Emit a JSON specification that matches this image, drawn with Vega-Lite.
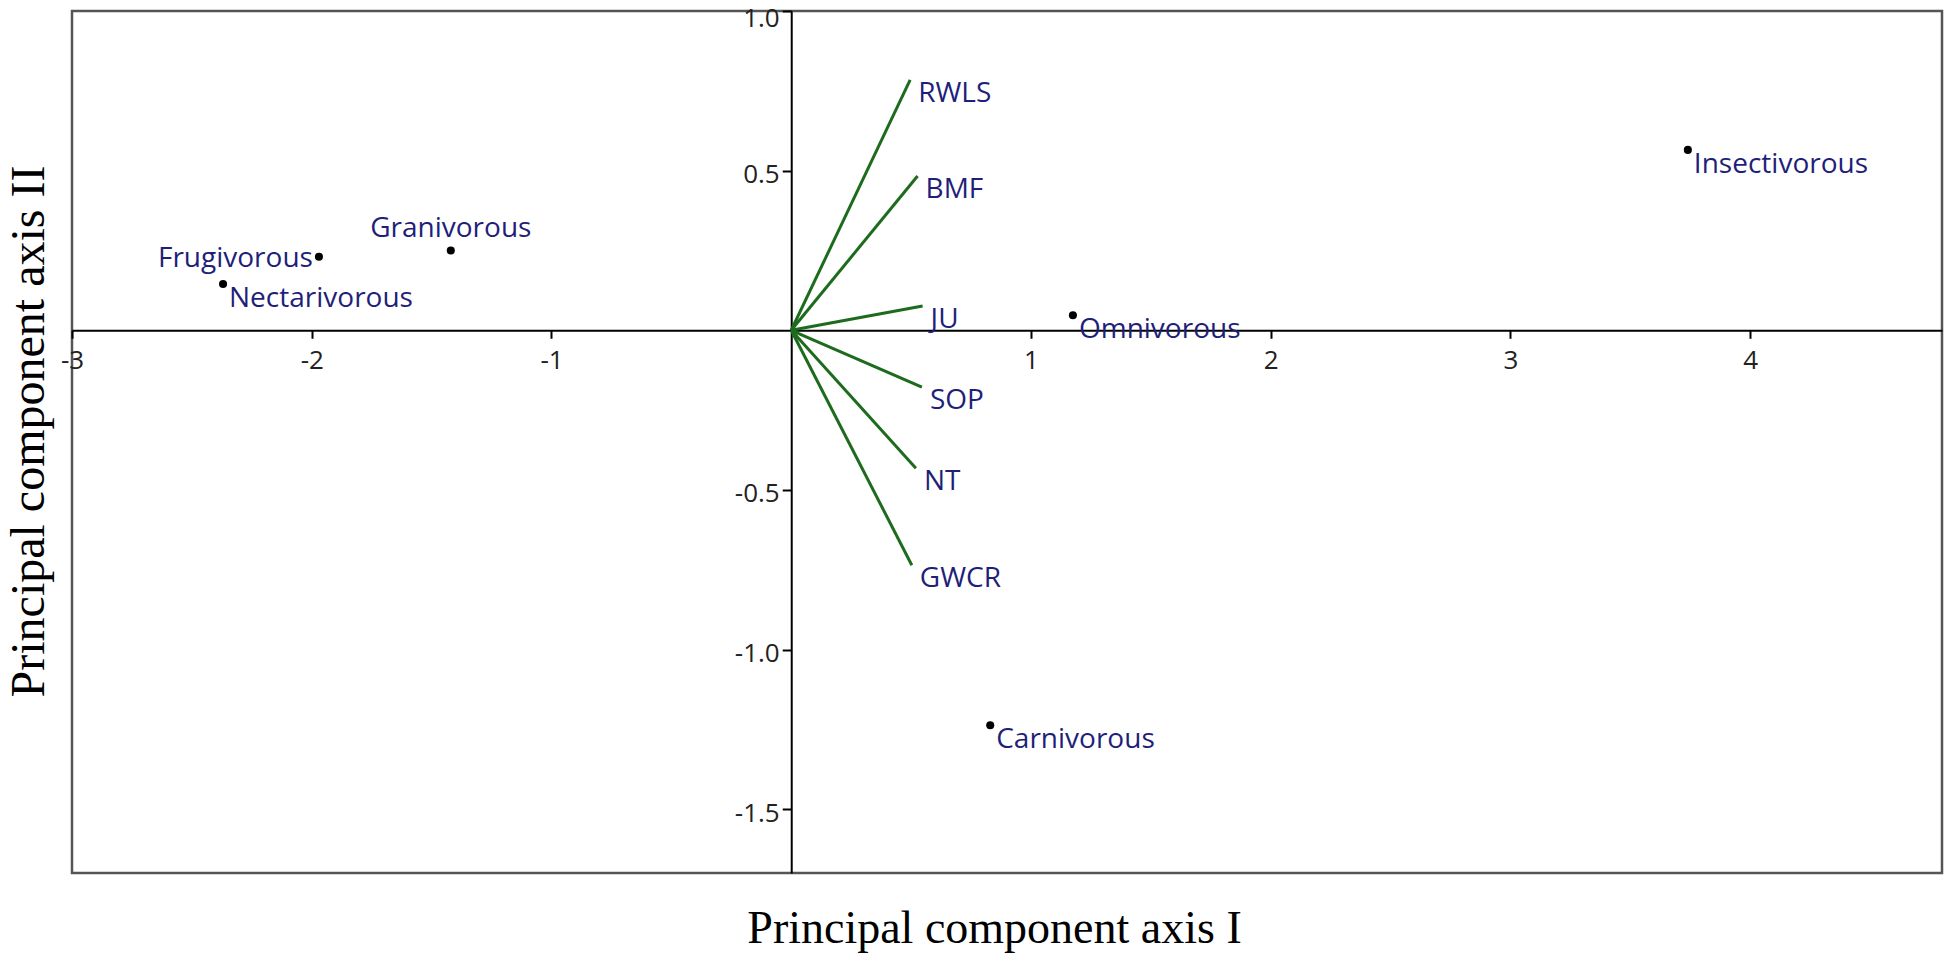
{
  "$schema": "https://vega.github.io/schema/vega-lite/v6.json",
  "width": 1870,
  "height": 862,
  "autosize": {"type": "none"},
  "padding": {"left": 72, "top": 11, "right": 4, "bottom": 83},
  "background": "white",
  "config": {
    "view": {"stroke": "#555555", "strokeWidth": 2.5},
    "axis": {"grid": false}
  },
  "datasets": {
    "points": [
      {"group": "Frugivorous", "x": -1.97, "y": 0.23},
      {"group": "Granivorous", "x": -1.42, "y": 0.25},
      {"group": "Nectarivorous", "x": -2.37, "y": 0.145},
      {"group": "Insectivorous", "x": 3.74, "y": 0.565},
      {"group": "Omnivorous", "x": 1.175, "y": 0.047},
      {"group": "Carnivorous", "x": 0.83, "y": -1.237}
    ],
    "vectors": [
      {"variable": "RWLS", "x0": 0, "y0": 0, "x": 0.496, "y": 0.784},
      {"variable": "BMF", "x0": 0, "y0": 0, "x": 0.527, "y": 0.483},
      {"variable": "JU", "x0": 0, "y0": 0, "x": 0.548, "y": 0.076},
      {"variable": "SOP", "x0": 0, "y0": 0, "x": 0.545, "y": -0.178},
      {"variable": "NT", "x0": 0, "y0": 0, "x": 0.52, "y": -0.432},
      {"variable": "GWCR", "x0": 0, "y0": 0, "x": 0.503, "y": -0.736}
    ]
  },
  "layer": [
    {
      "data": {"name": "points"},
      "mark": {"type": "point", "filled": true, "color": "black", "size": 65, "opacity": 1},
      "encoding": {
        "x": {
          "field": "x", "type": "quantitative",
          "scale": {"domain": [-3, 4.8], "nice": false, "zero": false},
          "axis": {
            "title": "Principal component axis I",
            "values": [-3, -2, -1, 1, 2, 3, 4],
            "labelExpr": "replace(format(datum.value, 'd'), '\u2212', '-')",
            "offset": -542.74,
            "domainColor": "black", "domainWidth": 2,
            "tickColor": "black", "tickWidth": 2, "tickSize": 8,
            "labelFont": "Open Sans", "labelFontSize": 26, "labelColor": "#222222",
            "labelPadding": 9, "labelFlush": false, "labelOverlap": false,
            "titleFont": "Liberation Serif", "titleFontSize": 46, "titleFontWeight": "normal",
            "titleColor": "black", "titleBaseline": "alphabetic",
            "titleX": 922, "titleY": 612.7
          }
        },
        "y": {
          "field": "y", "type": "quantitative",
          "scale": {"domain": [-1.7, 1.0], "nice": false, "zero": false},
          "axis": {
            "title": "Principal component axis II",
            "values": [1, 0.5, -0.5, -1, -1.5],
            "labelExpr": "replace(format(datum.value, '.1f'), '\u2212', '-')",
            "offset": -719.23,
            "domainColor": "black", "domainWidth": 2,
            "tickColor": "black", "tickWidth": 2, "tickSize": 9,
            "labelFont": "Open Sans", "labelFontSize": 26, "labelColor": "#222222",
            "labelPadding": 3, "labelOverlap": false,
            "labelOffset": {"condition": {"test": "datum.value === 1", "value": 7}, "value": 4},
            "titleFont": "Liberation Serif", "titleFontSize": 48, "titleFontWeight": "normal",
            "titleColor": "black", "titleBaseline": "alphabetic", "titleAngle": -90,
            "titleX": -748, "titleY": 420
          }
        }
      }
    },
    {
      "data": {"name": "vectors"},
      "mark": {"type": "rule", "color": "#1d6b1d", "strokeWidth": 3},
      "encoding": {
        "x": {"field": "x0", "type": "quantitative", "scale": {"domain": [-3, 4.8], "nice": false, "zero": false}},
        "y": {"field": "y0", "type": "quantitative", "scale": {"domain": [-1.7, 1.0], "nice": false, "zero": false}},
        "x2": {"field": "x"},
        "y2": {"field": "y"}
      }
    },
    {
      "data": {"name": "vectors"},
      "mark": {"type": "text", "align": "left", "baseline": "middle", "dx": 8, "dy": 14, "font": "Open Sans", "fontSize": 28, "color": "#1f1f7a"},
      "encoding": {
        "x": {"field": "x", "type": "quantitative", "scale": {"domain": [-3, 4.8], "nice": false, "zero": false}},
        "y": {"field": "y", "type": "quantitative", "scale": {"domain": [-1.7, 1.0], "nice": false, "zero": false}},
        "text": {"field": "variable"}
      }
    },
    {
      "data": {"name": "points"},
      "transform": [{"filter": "datum.group !== 'Frugivorous' && datum.group !== 'Granivorous'"}],
      "mark": {"type": "text", "align": "left", "baseline": "middle", "dx": 6, "dy": 15, "font": "Open Sans", "fontSize": 28, "color": "#1f1f7a"},
      "encoding": {
        "x": {"field": "x", "type": "quantitative", "scale": {"domain": [-3, 4.8], "nice": false, "zero": false}},
        "y": {"field": "y", "type": "quantitative", "scale": {"domain": [-1.7, 1.0], "nice": false, "zero": false}},
        "text": {"field": "group"}
      }
    },
    {
      "data": {"name": "points"},
      "transform": [{"filter": "datum.group === 'Frugivorous'"}],
      "mark": {"type": "text", "align": "right", "baseline": "middle", "dx": -6, "dy": 2, "font": "Open Sans", "fontSize": 28, "color": "#1f1f7a"},
      "encoding": {
        "x": {"field": "x", "type": "quantitative", "scale": {"domain": [-3, 4.8], "nice": false, "zero": false}},
        "y": {"field": "y", "type": "quantitative", "scale": {"domain": [-1.7, 1.0], "nice": false, "zero": false}},
        "text": {"field": "group"}
      }
    },
    {
      "data": {"name": "points"},
      "transform": [{"filter": "datum.group === 'Granivorous'"}],
      "mark": {"type": "text", "align": "center", "baseline": "middle", "dy": -21, "font": "Open Sans", "fontSize": 28, "color": "#1f1f7a"},
      "encoding": {
        "x": {"field": "x", "type": "quantitative", "scale": {"domain": [-3, 4.8], "nice": false, "zero": false}},
        "y": {"field": "y", "type": "quantitative", "scale": {"domain": [-1.7, 1.0], "nice": false, "zero": false}},
        "text": {"field": "group"}
      }
    }
  ]
}
